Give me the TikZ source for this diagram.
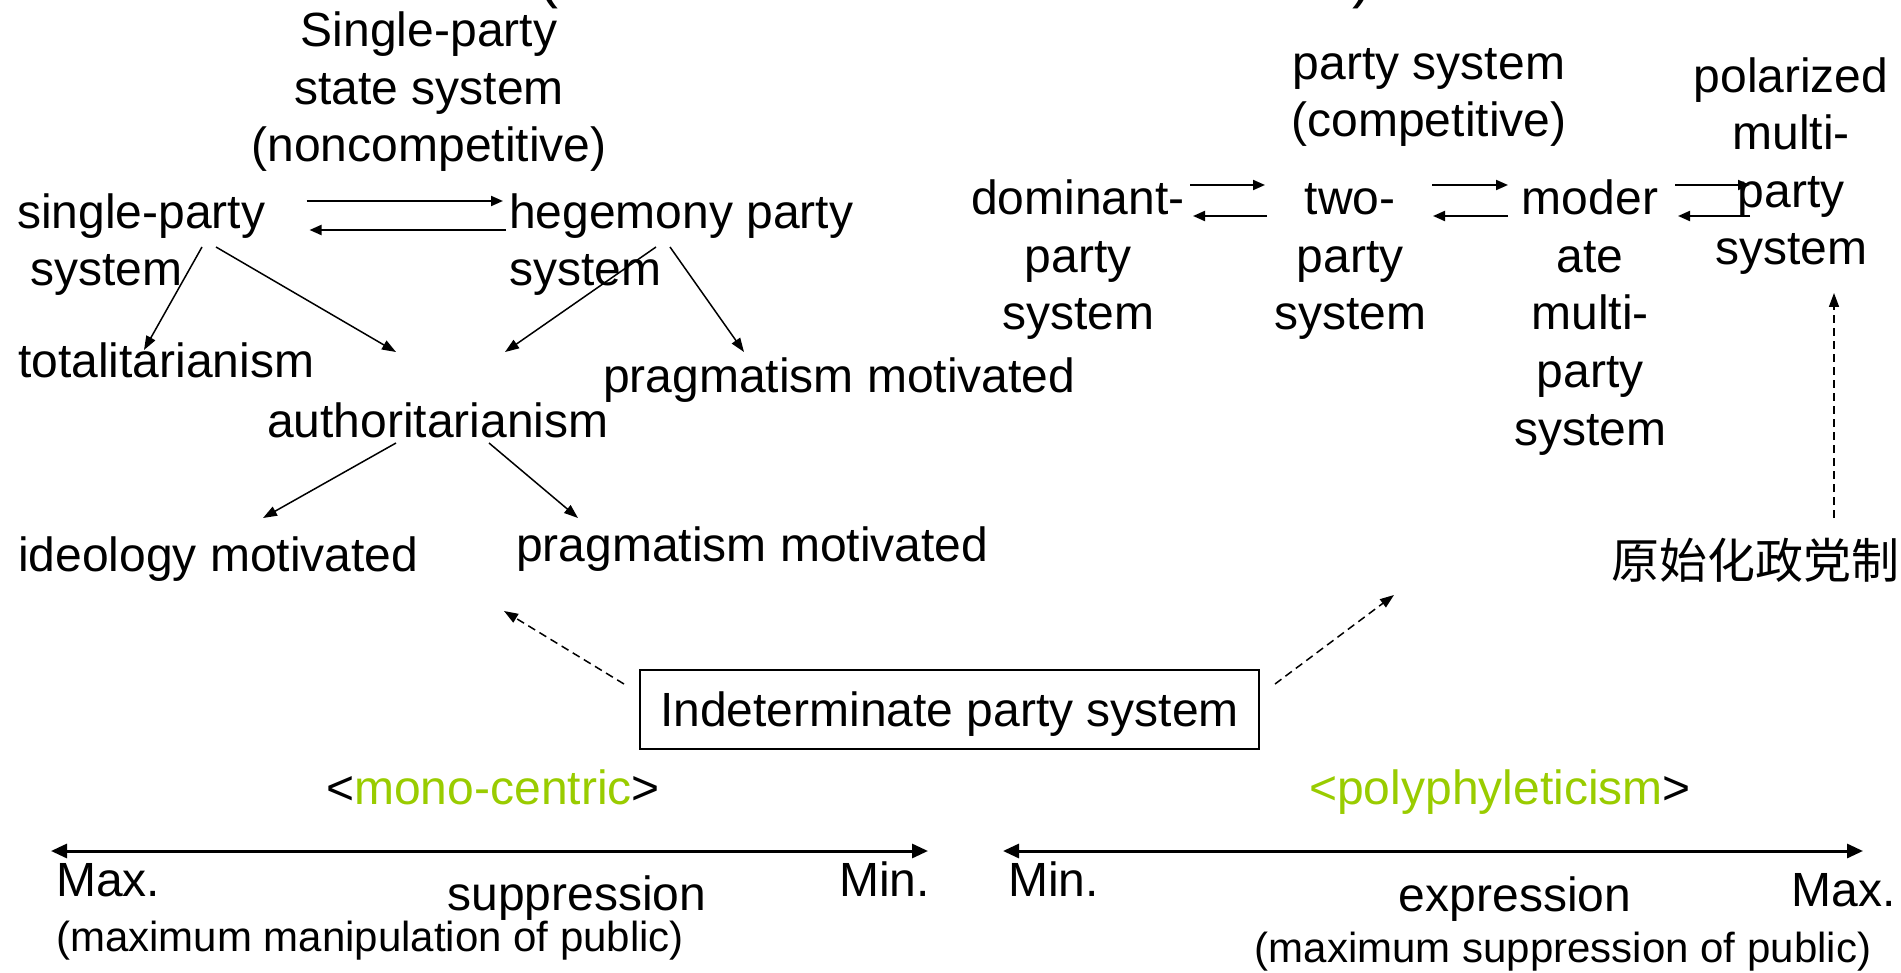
\documentclass[tikz,border=0pt]{standalone}
\usepackage{fontspec}
\setmainfont{Liberation Sans}
\newfontfamily\cjk{Noto Sans CJK SC}
\usetikzlibrary{calc,arrows.meta}
\definecolor{monogreen}{HTML}{99CC00}
\tikzset{
  lbl/.style={inner sep=0pt, align=center, font=\fontsize{48}{57.6}\selectfont},
  lbll/.style={lbl, align=left},
  note/.style={inner sep=0pt, font=\fontsize{42}{50}\selectfont},
  arr/.style={line width=1.5pt, -{Triangle[length=14pt,width=10pt]}},
  pairarr/.style={line width=2pt, -{Triangle[length=12pt,width=10pt]}},
  dasharr/.style={arr, dash pattern=on 8pt off 5pt},
  scaleline/.style={line width=3pt, {Triangle[length=16pt,width=14pt]}-{Triangle[length=16pt,width=14pt]}},
}

\begin{document}
\begin{tikzpicture}[x=1pt,y=-1pt]
	\useasboundingbox (0,0) rectangle (1901,973);
	%%%%% START %%%%%
	
	% cut-off heading
	\node[inner sep=0pt, anchor=base, font=\fontsize{60}{72}\selectfont] (lpar) at (548,-3) {(};
	\node[inner sep=0pt, anchor=base, font=\fontsize{60}{72}\selectfont] (rpar) at (1362,-3) {)};
	
	% noncompetitive side (base = last line)
	\node[lbl, anchor=base] (spss) at (429,162) {Single-party\\state system\\(noncompetitive)};
	\node[lbll, anchor=base west] (sp) at (17,286) {single-party\\\hspace*{13pt}system};
	\node[lbll, anchor=base west] (hp) at (509,286) {hegemony party\\system};
	\node[lbl, anchor=base west] (tot) at (18,378) {totalitarianism};
	\node[lbl, anchor=base west] (prag1) at (603,393) {pragmatism motivated};
	\node[lbl, anchor=base west] (auth) at (267,438) {authoritarianism};
	\node[lbl, anchor=base west] (ideo) at (18,571) {ideology motivated};
	\node[lbl, anchor=base west] (prag2) at (516,561) {pragmatism motivated};
	
	\draw[pairarr] ($(sp.base east)+(41,-85)$) -- ($(hp.base west)+(-6,-85)$);
	\draw[pairarr] ($(hp.base west)+(-3,-56)$) -- ($(sp.base east)+(44,-56)$);
	
	\draw[arr] ($(sp.base west)+(185,-39)$) -- ($(tot.base west)+(126,-28)$);
	\draw[arr] ($(sp.base west)+(199,-39)$) -- ($(auth.base west)+(129,-86)$);
	\draw[arr] ($(hp.base west)+(147,-39)$) -- ($(auth.base west)+(238,-86)$);
	\draw[arr] ($(hp.base west)+(161,-39)$) -- ($(prag1.base west)+(141,-41)$);
	\draw[arr] ($(auth.base west)+(129,5)$) -- ($(ideo.base west)+(245,-53)$);
	\draw[arr] ($(auth.base west)+(222,5)$) -- ($(prag2.base west)+(62,-43)$);
	
	% competitive side
	\node[lbl, anchor=base] (psys) at (1429,137) {party system\\(competitive)};
	\node[lbl, anchor=base] (pol) at (1791,265) {polarized\\multi-\\party\\system};
	\node[lbl, anchor=base] (dom) at (1078,330) {dominant-\\party\\system};
	\node[lbl, anchor=base] (two) at (1350,330) {two-\\party\\system};
	\node[lbl, anchor=base] (mod) at (1590,445) {moder\\ate\\multi-\\party\\system};
	\node[lbl, anchor=base west, font=\cjk\fontsize{48}{57.6}\selectfont] (prim) at (1611,578) {原始化政党制};
	
	\draw[pairarr] ($(dom.base)+(112,-145)$) -- ($(two.base)+(-85,-145)$);
	\draw[pairarr] ($(two.base)+(-83,-114)$) -- ($(dom.base)+(115,-114)$);
	\draw[pairarr] ($(two.base)+(82,-145)$) -- ($(mod.base)+(-82,-260)$);
	\draw[pairarr] ($(mod.base)+(-82,-229)$) -- ($(two.base)+(83,-114)$);
	\draw[pairarr] ($(mod.base)+(85,-260)$) -- ($(pol.base)+(-41,-80)$);
	\draw[pairarr] ($(pol.base)+(-41,-49)$) -- ($(mod.base)+(88,-229)$);
	
	\draw[dasharr] ($(prim.base west)+(223,-60)$) -- ($(pol.base)+(43,28)$);
	
	% indeterminate
	\node[lbl, draw, line width=2pt, minimum width=619pt, minimum height=79pt, text depth=0pt] (ind) at (949.5,709.5) {Indeterminate party system};
	\coordinate (monoend) at (504,611);
	\coordinate (polyend) at (1394,595);
	\draw[dasharr] ($(ind.north west)+(-15,15)$) -- (monoend);
	\draw[dasharr] ($(ind.north east)+(15,15)$) -- (polyend);
	
	\node[lbl, anchor=base] (mono) at (493,804) {<\textcolor{monogreen}{mono-centric}>};
	\node[lbl, anchor=base] (poly) at (1500,804) {\textcolor{monogreen}{<polyphyleticism}>};
	
	% scales
	\coordinate (smax) at (51,851);
	\coordinate (smin) at (928,851);
	\coordinate (emin) at (1003,851);
	\coordinate (emax) at (1863,851);
	\draw[scaleline] (smax) -- (smin);
	\draw[scaleline] (emin) -- (emax);
	
	\node[lbl, anchor=base west] (smaxt) at (56,896) {Max.};
	\node[lbl, anchor=base east] (smint) at (930,896) {Min.};
	\node[lbl, anchor=base] (supp) at (577,910) {suppression};
	\node[note, anchor=base west] (manip) at (56,951) {(maximum manipulation of public)};
	
	\node[lbl, anchor=base west] (emint) at (1008,896) {Min.};
	\node[lbl, anchor=base east] (emaxt) at (1896,906) {Max.};
	\node[lbl, anchor=base] (expr) at (1515,911) {expression};
	\node[note, anchor=base] (suppr) at (1563,962) {(maximum suppression of public)};
	
	%%%%% END %%%%%
\end{tikzpicture}
\end{document}
